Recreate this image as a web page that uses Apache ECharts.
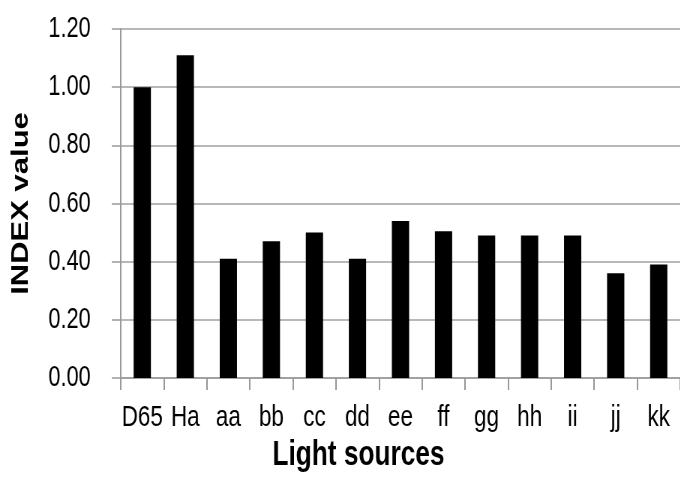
<!DOCTYPE html>
<html>
<head>
<meta charset="utf-8">
<script src="https://cdn.jsdelivr.net/npm/echarts@6/dist/echarts.min.js"></script>
<style>
  html, body { margin: 0; padding: 0; background: #fff; overflow: hidden; }
  /* the original picture is squeezed sideways, so draw wider and squeeze it back */
  #chart { width: 907px; height: 481px; transform: scaleX(0.75); transform-origin: 0 0; }
</style>
</head>
<body>
<div id="chart"></div>
<script>
// data
var lightSources = ['D65', 'Ha', 'aa', 'bb', 'cc', 'dd', 'ee', 'ff', 'gg', 'hh', 'ii', 'jj', 'kk'];
var indexValues = [1.00, 1.11, 0.41, 0.47, 0.50, 0.41, 0.54, 0.505, 0.49, 0.49, 0.49, 0.36, 0.39];
var yTicks = { min: 0, max: 1.2, step: 0.2 };

var font = '"Liberation Sans", Arial, sans-serif';

var myChart = echarts.init(document.getElementById('chart'));

var option = {
    animation: false,
    backgroundColor: '#fff',
    grid: {
        left: 161,
        right: -8,
        top: 29,
        bottom: 103,
        containLabel: false
    },
    xAxis: {
        type: 'category',
        data: lightSources,
        name: 'Light sources',
        nameLocation: 'middle',
        nameGap: 60,
        nameTextStyle: {
            fontFamily: font,
            fontWeight: 'bold',
            fontSize: 35,
            color: '#000',
            // the title sits a little left of the plot's middle
            padding: [0, 112, 0, 0]
        },
        axisLine: { lineStyle: { color: '#999', width: 1.5 } },
        axisTick: {
            show: true,
            alignWithLabel: false,
            length: 12,
            lineStyle: { color: '#999', width: 2 }
        },
        axisLabel: {
            margin: 25,
            fontFamily: font,
            fontSize: 30,
            color: '#000',
            interval: 0
        }
    },
    yAxis: {
        type: 'value',
        min: yTicks.min,
        max: yTicks.max,
        interval: yTicks.step,
        name: 'INDEX value',
        nameLocation: 'middle',
        nameGap: 117,
        nameTextStyle: {
            fontFamily: font,
            fontWeight: 'bold',
            fontSize: 31,
            color: '#000'
        },
        axisLine: { show: true, lineStyle: { color: '#999', width: 2 } },
        axisTick: {
            show: true,
            length: 12,
            lineStyle: { color: '#999', width: 1.5 }
        },
        axisLabel: {
            margin: 40,
            fontFamily: font,
            fontSize: 29,
            color: '#000',
            formatter: function (v) { return v.toFixed(2); }
        },
        splitLine: { lineStyle: { color: '#a0a0a0', width: 1.5 } }
    },
    series: [{
        name: 'INDEX value',
        type: 'bar',
        data: indexValues,
        barWidth: 23,
        itemStyle: { color: '#000' }
    }]
};

myChart.setOption(option);
</script>
</body>
</html>
